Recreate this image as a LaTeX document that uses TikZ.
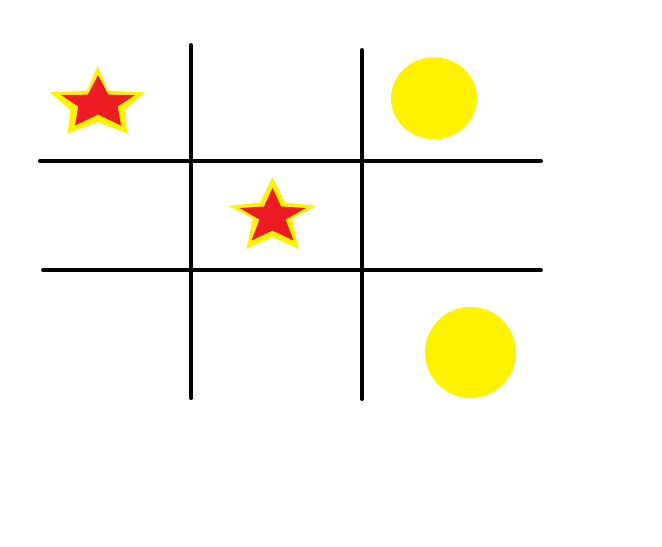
\documentclass[tikz,border=0pt]{standalone}
\usepackage{tikz}
\definecolor{pntred}{RGB}{237,28,36}
\definecolor{pntyellow}{RGB}{255,242,0}

\begin{document}
\begin{tikzpicture}[x=0.02cm,y=-0.02cm,
  gridline/.style={draw=black,line width=0.08cm,line cap=round},
  starrim/.style={fill=pntyellow},
  starcore/.style={fill=pntred},
  ringmark/.style={fill=pntyellow}]
  \useasboundingbox (0,0) rectangle (662,547);
  % grid
  \draw[gridline] (191,45) -- (191,398);
  \draw[gridline] (362,50) -- (362,399);
  \draw[gridline] (40,161) -- (541,161);
  \draw[gridline] (43,270) -- (541,270);
  % star, top left
  \fill[starrim] (97.5,66) -- (108,90.5) -- (145,92.5) -- (124.5,110) -- (127.5,133.5)
    -- (97.5,122) -- (67.5,133.5) -- (70.5,110) -- (50,92.5) -- (87,90.5) -- cycle;
  \fill[starcore] (98,75.3) -- (108.3,94.7) -- (135,95) -- (117.7,106.5) -- (121,125.5)
    -- (98,114.5) -- (75,125.5) -- (78.3,106.5) -- (61,95) -- (87.7,94.7) -- cycle;
  % star, centre
  \fill[starrim] (272.5,177) -- (285,202.5) -- (316,206) -- (292,218.5) -- (298.5,249)
    -- (272.5,237) -- (246.5,249) -- (253,218.5) -- (228.5,206) -- (260,202.5) -- cycle;
  \fill[starcore] (272.5,188) -- (281,206.5) -- (306,208) -- (285.5,219.5) -- (293.5,240.5)
    -- (272.5,230.5) -- (251.5,240.5) -- (259.5,219.5) -- (239.5,208) -- (264,206.5) -- cycle;
  % circles
  \fill[ringmark] (434,98.3) ellipse [x radius=43, y radius=41];
  \fill[ringmark] (470.5,352.5) circle [radius=45.5];
\end{tikzpicture}
\end{document}
